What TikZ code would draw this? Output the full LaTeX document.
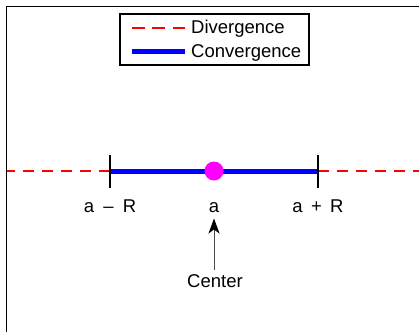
\documentclass[tikz,border=0pt]{standalone}
\usepackage{fontspec}
\setmainfont{Liberation Sans}
\usetikzlibrary{arrows.meta}
\definecolor{divred}{RGB}{255,0,0}
\definecolor{convblue}{RGB}{0,0,255}
\definecolor{dotmag}{RGB}{255,0,255}
\begin{document}
\begin{tikzpicture}[x=1pt,y=-1pt,
  lbl/.style={font=\fontsize{18.5}{20}\selectfont, anchor=base, inner sep=0pt},
  divline/.style={draw=divred, line width=1.5pt, dash pattern=on 11pt off 8pt},
  legdiv/.style={draw=divred, line width=1.6pt, dash pattern=on 13pt off 7.5pt},
  convline/.style={draw=convblue, line width=5pt},
  tickline/.style={draw=black, line width=1.4pt},
  frameline/.style={draw=black, line width=1.6pt}]
\useasboundingbox (0,0) rectangle (419,332);
% frame (left and top edges visible)
\draw[frameline] (6.5,332) -- (6.5,6.5) -- (419,6.5);
% legend
\node[draw, line width=1.3pt, minimum width=189pt, minimum height=51pt, inner sep=0pt] (legend) at (214.5,39.5) {};
\coordinate (d1) at (131.5,28);
\coordinate (d2) at (185,28);
\coordinate (c1) at (131.5,51.5);
\coordinate (c2) at (185,51.5);
\draw[legdiv] (d1) -- (d2);
\draw[convline] (c1) -- (c2);
\node[lbl, anchor=base west] (dtxt) at (191,33.5) {Divergence};
\node[lbl, anchor=base west] (ctxt) at (191,57.5) {Convergence};
% axis
\coordinate (left) at (6.5,171);
\coordinate (right) at (419,171);
\coordinate (lo) at (110,171);
\coordinate (hi) at (318,171);
\draw[divline] (lo) -- (left);
\draw[divline] (hi) -- (right);
\draw[convline] (lo) -- (hi);
\draw[tickline] (110,155) -- (110,187.5);
\draw[tickline] (318,155) -- (318,187.5);
\node[circle, fill=dotmag, minimum size=19pt, inner sep=0pt] (center) at (214,171) {};
% labels
\node[lbl] (lab1) at (110,212.5) {a\hspace{0.5em}–\hspace{0.5em}R};
\node[lbl] (laba) at (214,212.5) {a};
\node[lbl] (lab2) at (318,212.5) {a\hspace{0.45em}+\hspace{0.45em}R};
\node[lbl] (ctr) at (215,287) {Center};
\coordinate (tail) at (214,270);
\coordinate (tip) at (214,218.5);
\draw[line width=1pt, black!70, -{Stealth[length=15pt,width=11pt,inset=4pt,black]}] (tail) -- (tip);
\end{tikzpicture}
\end{document}
